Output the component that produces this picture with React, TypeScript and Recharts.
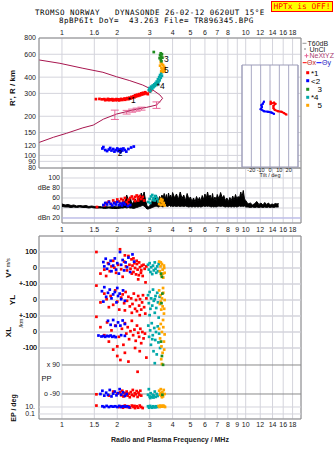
import React from "react";
import {
  ComposedChart,
  XAxis,
  YAxis,
  CartesianGrid,
  Scatter,
  Area,
  ErrorBar,
  ReferenceLine,
  ReferenceArea,
} from "recharts";

const W = 335;
const H = 451;
const SANS = "'Liberation Sans', Arial, sans-serif";
const MONO = "'DejaVu Sans Mono', 'Liberation Mono', monospace";

const RED = "#ff0000";
const BLUE = "#0000ff";
const GREEN = "#1e8c1e";
const CYAN = "#00a8a8";
const ORANGE = "#ffa500";
const PROFILE = "#a8164f";
const PINK = "#e8689a";
const GRID = "#d4d4dc";
const FRAME = "#8a8a8a";
// axes keep their labels outside the plot; a size of 0 would hide them in recharts
const THIN = 0.01;
const NBSP = "\u00a0";

// frequency axis (MHz)
const freqTicks = [1, 1.5, 2, 3, 4, 5, 6, 7, 8, 9, 10, 12, 14, 16, 18];
const topFreqLabels = ["1", "1.6", "2", "3", "4", "5", "6", "7", "8", "", "10", "12", "14", "16", "18"];
const bottomFreqLabels = ["1", "1.5", "2", "3", "4", "5", "6", "7", "8", "9", "10", "12", "14", "16", "18"];

// height panel
const heightTicks = [80, 90, 100, 120, 150, 200, 300, 400, 600, 800];
const profileCurve = [
  [0.753, 542], [0.975, 511], [1.3, 468], [1.67, 436], [1.98, 403], [2.34, 376], [2.75, 348],
  [3.12, 319], [3.41, 292], [3.53, 275], [3.41, 259], [3.27, 244], [2.88, 234], [2.43, 223],
  [1.98, 208], [1.68, 190], [1.48, 171], [1.3, 163], [1.06, 148], [0.9, 138], [0.753, 126],
];
const profileErrors = [
  [1.94, 206, 17], [2.25, 215, 7], [2.41, 221, 6], [2.55, 225, 6], [2.71, 229, 6], [3.27, 244, 14],
];
const hRed = [
  [1.53, 271], [1.6, 272], [1.65, 270], [1.7, 271], [1.72, 266], [1.75, 268], [1.78, 272], [1.8, 266],
  [1.83, 270], [1.86, 267], [1.88, 271], [1.9, 265], [1.93, 269], [1.96, 266], [1.98, 271], [2.0, 267],
  [2.03, 270], [2.05, 265], [2.08, 268], [2.1, 272], [2.13, 267], [2.16, 270], [2.19, 274], [2.21, 268],
  [2.24, 272], [2.27, 276], [2.3, 271], [2.33, 278], [2.36, 274], [2.39, 282], [2.42, 277], [2.45, 285],
  [2.48, 280], [2.5, 290], [2.53, 284], [2.56, 293], [2.6, 287], [2.63, 296], [2.66, 290], [2.7, 300],
  [2.73, 294], [2.76, 303], [2.8, 297], [2.84, 306], [2.88, 300], [2.93, 296], [3.0, 310], [3.06, 318],
];
const hBlue = [
  [1.66, 113], [1.68, 116], [1.72, 110], [1.76, 108], [1.8, 111], [1.83, 114], [1.86, 109], [1.9, 112],
  [1.93, 107], [1.96, 110], [2.0, 113], [2.02, 108], [2.05, 111], [2.08, 106], [2.1, 112], [2.13, 109],
  [2.16, 113], [2.2, 110], [2.24, 107], [2.3, 112], [2.38, 115], [2.46, 117],
];
const hGreen = [[3.16, 624], [3.4, 560], [3.42, 590], [3.45, 610], [3.47, 575], [3.5, 600], [3.45, 545], [3.52, 565], [3.48, 530]];
const hOrange = [
  [3.45, 520], [3.5, 505], [3.55, 495], [3.6, 480], [3.42, 490], [3.48, 470], [3.58, 460], [3.62, 450],
  [3.52, 455], [3.47, 445], [3.56, 440], [3.63, 468],
];
const hCyan = [
  [2.97, 318], [3.0, 330], [3.03, 312], [3.06, 338], [3.1, 325], [3.12, 345], [3.15, 335], [3.18, 352],
  [3.2, 342], [3.23, 360], [3.26, 348], [3.28, 370], [3.3, 356], [3.33, 385], [3.35, 365], [3.38, 400],
  [3.4, 378], [3.42, 415], [3.45, 395], [3.47, 430], [3.5, 410], [3.52, 440],
];
const echoLabelText = ["*1", "2", "3", "*4", "5"];
const echoLabelAt = [[2.28, 269], [2.01, 104], [3.59, 551], [3.28, 342], [3.59, 454]];

// amplitude panel (dB)
const dbTicks = [20, 40, 60, 80, 100];
const noiseFreq = [
  1.0, 1.04, 1.08, 1.12, 1.16, 1.2, 1.25, 1.3, 1.35, 1.4, 1.45, 1.5, 1.55, 1.6, 1.65, 1.7, 1.8, 1.9, 2.0,
  2.1, 2.15, 2.2, 2.25, 2.3, 2.35, 2.4, 2.45, 2.5, 2.55, 2.6, 2.65, 2.7, 2.75, 2.8, 2.85, 2.9, 2.95, 3.0,
  3.05, 3.1, 3.15, 3.2, 3.25, 3.3, 3.35, 3.4, 3.45, 3.5, 3.55, 3.6, 3.65, 3.7, 3.75, 3.8, 3.85, 3.9, 3.95,
  4.0, 4.1, 4.2, 4.3, 4.4, 4.5, 4.6, 4.7, 4.8, 4.9, 5.0, 5.1, 5.2, 5.3, 5.4, 5.5, 5.6, 5.7, 5.8, 5.9, 6.0,
  6.1, 6.2, 6.3, 6.4, 6.5, 6.6, 6.7, 6.8, 6.9, 7.0, 7.15, 7.3, 7.45, 7.6, 7.75, 7.9, 8.05, 8.2, 8.35, 8.5,
  8.65, 8.8, 8.95, 9.1, 9.25, 9.4, 9.55, 9.7, 9.85, 10.0, 10.3, 10.6, 10.9, 11.2, 11.5, 11.8, 12.1, 12.4,
  12.7, 13.0, 13.3, 13.6, 13.9, 14.2, 14.5, 14.8, 15.1,
];
const noiseLow = [
  43, 42, 42, 41, 42, 41, 42, 41, 41, 40, 41, 40, 40, 40, 40, 39, 40, 39, 39,
  40, 40, 41, 40, 41, 40, 40, 39, 40, 41, 42, 43, 44, 45, 44, 41, 38, 38, 39,
  40, 41, 42, 43, 44, 43, 42, 43, 44, 43, 42, 44, 45, 44, 43, 44, 45, 43, 44,
  43, 44, 43, 44, 43, 44, 43, 44, 43, 42, 43, 42, 43, 42, 43, 42, 43, 42, 43, 44, 43,
  44, 43, 44, 43, 42, 43, 42, 43, 42, 43, 44, 43, 44, 43, 42, 43, 42, 43, 42, 43,
  42, 43, 42, 43, 44, 43, 44, 43, 44, 42, 42, 41, 42, 41, 42, 41, 42, 41,
  42, 41, 42, 41, 42, 41, 42, 42, 42,
];
const noiseHigh = [
  48, 46, 47, 45, 46, 44, 45, 44, 45, 43, 44, 43, 42, 43, 42, 43, 42, 43, 42,
  45, 58, 50, 66, 55, 62, 48, 52, 58, 51, 64, 56, 70, 62, 72, 55, 45, 42, 44,
  48, 55, 60, 58, 66, 60, 56, 63, 58, 66, 60, 69, 58, 67, 56, 70, 60, 66, 58,
  71, 60, 68, 57, 72, 59, 66, 55, 69, 58, 62, 53, 60, 52, 63, 55, 61, 54, 65, 57, 68,
  59, 72, 60, 66, 56, 69, 54, 62, 55, 67, 58, 71, 60, 65, 55, 60, 53, 61, 55, 64,
  56, 67, 58, 63, 60, 72, 62, 75, 58, 55, 48, 50, 46, 49, 53, 47, 50, 46,
  51, 47, 50, 46, 48, 47, 49, 48, 49,
];
const dbRed = [
  [1.55, 42], [1.7, 45], [1.75, 50], [1.8, 53], [1.85, 48], [1.9, 55], [1.95, 51], [2.0, 57], [2.05, 53],
  [2.1, 58], [2.15, 55], [2.2, 60], [2.25, 52], [2.3, 56], [2.35, 60], [2.4, 63], [2.45, 58], [2.5, 62],
  [2.55, 65], [2.6, 60], [2.65, 64], [2.7, 58], [2.75, 62], [2.8, 55], [2.3, 48], [2.5, 54], [2.6, 55],
];
const dbBlue = [
  [1.68, 46], [1.72, 50], [1.76, 47], [1.8, 52], [1.84, 48], [1.88, 45], [1.92, 50], [1.96, 47], [2.0, 52],
  [2.04, 46], [2.08, 49], [2.12, 45], [2.16, 50], [2.2, 47], [2.28, 44], [2.35, 46],
];
const dbCyan = [
  [2.95, 52], [3.0, 58], [3.05, 63], [3.1, 66], [3.15, 60], [3.2, 55], [3.25, 62], [3.3, 58], [3.35, 53],
  [3.02, 50], [3.12, 56], [3.22, 64],
];
const dbOrange = [[3.38, 48], [3.42, 54], [3.46, 58], [3.5, 52], [3.54, 47], [3.58, 50], [3.62, 45], [3.45, 46], [3.52, 56]];

// tilt inset (deg)
const tiltTicks = [-20, -10, 0, 10, 20];
const tiltRed = [[0.75, 64.1], [0.75, 61.9], [4.3, 63.1], [5.8, 61.9], [3.7, 59.9], [3.7, 57.7], [5.1, 56], [8.6, 54.7], [12.3, 54.1], [15.1, 52.8], [17.6, 51.4]];
const tiltBlue = [[-6.5, 64.1], [-7.8, 61.9], [-9.2, 60.6], [-8.6, 58.7], [-10, 56.7], [-6.5, 54.7], [-2.2, 54.1], [1.5, 53.4], [4.3, 52.1]];

// lower panel axis domains (all share the same pixel band)
const V_DOMAIN = [-943.75, 200];
const YL_DOMAIN = [-743.75, 400];
const XL_DOMAIN = [-543.75, 600];
const PP_DOMAIN = [-245.2, 890.7];
const EP_DOMAIN = [-7, 252];
// row grid, stacked on the V* scale: V* 0, YL 0 (-200), XL 0 (-400)
const rowTicks = [100, 0, -100, -200, -300, -400, -500];
const rowTickLabels = ["100", "0", "+-100", "0", "+-100", "0", "-100"];
// V* value -> PP-axis value at the same height
const vToPp = (v: number) =>
  PP_DOMAIN[0] + ((v - V_DOMAIN[0]) * (PP_DOMAIN[1] - PP_DOMAIN[0])) / (V_DOMAIN[1] - V_DOMAIN[0]);

// lower panel: V*, YL, XL (m/s), PP and EP (deg)
const vRed = [
  [1.54, 100], [1.62, -35], [1.7, -10], [1.74, -50], [1.78, 30], [1.82, -20], [1.86, 10], [1.9, 45], [1.93, 2],
  [1.97, -30], [2.02, 20], [2.07, 117], [2.1, -8], [2.14, -55], [2.18, 40], [2.2, 79], [2.23, 10], [2.26, -15],
  [2.3, 75], [2.33, 20], [2.36, -5], [2.39, 54], [2.42, 15], [2.45, -25], [2.48, 30], [2.5, 0], [2.53, -40],
  [2.56, 25], [2.58, -10], [2.6, -71], [2.63, 35], [2.66, 5], [2.69, -30], [2.72, 15], [2.75, -50], [2.78, 20],
  [2.82, -5], [2.85, -90], [2.88, 10], [2.4, -35], [2.55, 45], [2.7, -15], [2.45, 60], [2.62, -45],
];
const vBlue = [
  [1.68, 37], [1.7, 10], [1.73, 58], [1.76, -5], [1.8, 25], [1.84, 45], [1.86, -20], [1.9, 15], [1.94, 60],
  [1.97, -10], [2.0, 30], [2.04, -35], [2.07, 100], [2.1, 20], [2.14, 50], [2.18, -15], [2.22, 35], [2.26, 5],
  [2.3, 65], [2.35, -25], [2.42, 85], [2.47, 40],
];
const vCyan = [
  [2.94, 20], [2.97, -10], [3.0, 30], [3.03, -25], [3.06, 5], [3.1, -38], [3.13, 15], [3.16, -15], [3.2, 35],
  [3.23, -5], [3.26, -30], [3.3, 10], [3.33, -20], [3.36, 25],
];
const vOrange = [
  [3.38, 40], [3.41, -20], [3.44, 10], [3.47, -45], [3.5, 25], [3.53, -10], [3.56, -60], [3.59, 15], [3.62, -30],
  [3.45, 35], [3.55, -35], [3.6, 0],
];
const vGreen = [[3.5, -55], [3.46, -35]];

const ylRed = [
  [1.54, 90], [1.62, -15], [1.7, 40], [1.75, 5], [1.8, -45], [1.84, 25], [1.9, -30], [1.95, 60], [2.0, -10],
  [2.05, -60], [2.1, 15], [2.14, 35], [2.18, -20], [2.22, 50], [2.26, -5], [2.3, 20], [2.34, -40], [2.38, 10],
  [2.42, -25], [2.46, 40], [2.5, -55], [2.53, 0], [2.56, -70], [2.6, 25], [2.63, -35], [2.66, 5], [2.7, -60],
  [2.73, -15], [2.76, 30], [2.8, -45], [2.84, -85], [2.88, 10], [2.4, -80], [2.65, -95], [2.2, -65],
];
const ylBlue = [
  [1.65, 55], [1.7, 80], [1.74, 20], [1.78, 45], [1.82, 65], [1.86, 10], [1.9, 35], [1.94, 50], [1.98, -15],
  [2.02, 25], [2.06, 40], [2.1, 5], [2.15, 60], [2.2, -5], [1.68, -10], [2.0, 75],
];
const ylCyan = [
  [2.94, 30], [2.97, -20], [3.0, 50], [3.03, -55], [3.06, 10], [3.1, -35], [3.13, 65], [3.16, -5], [3.2, -80],
  [3.23, 25], [3.26, -50], [3.3, 45], [3.33, -15], [3.36, -110], [3.4, 20], [3.0, -95], [3.2, 5],
];
const ylOrange = [
  [3.38, 60], [3.41, -25], [3.44, 30], [3.47, -60], [3.5, 10], [3.53, -40], [3.56, 45], [3.59, -85], [3.62, 0],
  [3.45, -10], [3.55, 75], [3.6, -55],
];
const ylGreen = [[3.48, -20], [3.52, 40]];

const xlRed = [
  [1.54, 95], [1.62, 30], [1.7, -20], [1.76, 60], [1.8, -60], [1.86, 10], [1.9, -110], [1.95, 40], [2.0, -150],
  [2.04, -30], [2.08, -175], [2.12, 20], [2.16, -80], [2.2, 55], [2.24, -10], [2.28, 30], [2.32, -45], [2.36, 5],
  [2.4, 70], [2.44, -20], [2.48, 15], [2.52, -55], [2.56, 40], [2.6, -5], [2.63, -30], [2.67, 20], [2.7, -70],
  [2.74, 0], [2.78, -40], [2.83, -10], [2.88, -160], [2.2, -130], [2.5, -100], [2.3, -185], [2.65, -120], [2.0, -90],
];
const xlBlue = [
  [1.58, -22], [1.64, -28], [1.68, -25], [1.72, -30], [1.76, -24], [1.8, -27], [1.84, -22], [1.88, -30],
  [1.92, -26], [1.96, -32], [2.1, -20], [2.2, -24], [1.78, 70], [1.84, 45], [1.9, 75], [1.96, 38], [2.02, 60],
  [2.08, 40], [2.14, 72], [2.2, 50],
];
const xlCyan = [
  [2.95, 40], [2.98, -30], [3.02, 10], [3.05, -80], [3.08, 55], [3.12, -20], [3.15, -120], [3.18, 25], [3.22, -50],
  [3.25, 0], [3.28, -140], [3.32, 35], [3.35, -65], [3.38, -10], [3.42, -100], [3.1, -45], [3.2, -195],
];
const xlOrange = [
  [3.38, 20], [3.42, -40], [3.45, 50], [3.48, -90], [3.5, 0], [3.53, -130], [3.56, 30], [3.59, -60], [3.62, -15],
  [3.47, -170], [3.55, 75], [3.6, -110], [3.5, -200],
];
const xlGreen = [[3.5, -150], [3.46, -60], [3.55, -205]];

const ppRed = [
  [1.54, -92], [2.07, -80], [2.1, -98], [2.13, -70], [2.16, -105], [2.19, -85], [2.22, -95], [2.25, -75],
  [2.28, -100], [2.31, -88], [2.34, -110], [2.37, -78], [2.4, -95], [2.43, -65], [2.46, -102], [2.49, -85],
  [2.52, -92], [2.55, -72], [2.58, -108], [2.61, -82], [2.64, -96], [2.67, -70], [2.7, -100], [2.58, 48],
  [1.8, -100], [1.9, -75], [2.0, -88],
];
const ppBlue = [
  [1.62, -90], [1.66, -70], [1.7, -100], [1.74, -82], [1.78, -95], [1.82, -65], [1.86, -105], [1.9, -88],
  [1.94, -75], [1.98, -98], [2.02, -85], [2.06, -60], [2.1, -94], [2.15, -80], [2.2, -102], [2.25, -90],
];
const ppCyan = [
  [2.94, -95], [2.97, -60], [3.0, -105], [3.04, -85], [3.08, -110], [3.12, -95], [3.16, -100], [3.2, -75],
  [3.24, -108], [3.28, -90], [3.32, -102], [3.02, -115], [3.15, -112],
];
const ppOrange = [
  [3.38, -70], [3.42, -95], [3.45, -60], [3.48, -100], [3.52, -80], [3.55, -105], [3.58, -65], [3.62, -90],
  [3.5, -110], [3.44, -85],
];
const ppGreen = [[3.52, -95]];

const epRed = [
  [1.54, 12], [2.05, 10], [2.1, 11], [2.15, 9], [2.2, 12], [2.25, 10], [2.3, 11], [2.35, 9], [2.4, 12],
  [2.45, 10], [2.5, 8.5], [2.55, 11], [2.6, 9], [2.65, 12], [2.7, 10], [2.75, 8.5], [2.3, 10.5], [2.48, 11.5],
];
const epBlue = [
  [1.66, 11], [1.7, 10], [1.75, 11.5], [1.8, 10], [1.85, 11], [1.9, 10.5], [1.95, 11], [2.0, 10], [2.05, 11.5],
  [2.1, 10], [2.15, 11], [2.2, 10.5], [2.26, 11], [2.32, 9.5],
];
const epCyan = [[2.94, 11], [2.98, 9], [3.02, 11.5], [3.06, 10], [3.1, 9], [3.14, 11], [3.18, 10], [3.22, 9.5], [3.26, 11], [3.3, 10]];
const epOrange = [[3.36, 11.5], [3.4, 10], [3.44, 12], [3.48, 11], [3.52, 10.5], [3.56, 12], [3.6, 11], [3.64, 10]];

const pts = (a: number[][]) => a.map(([f, y]) => ({ f, y }));
const tick = { fontSize: 7, fill: "#1a1a1a", fontFamily: SANS };
const layer: React.CSSProperties = { position: "absolute", left: 0, top: 0 };
const lowerMargin = { top: 236, right: 34, bottom: H - 419, left: 39 };

const sq = (color: string, s = 2.7) => (p: any) =>
  p.cx == null ? <g /> : <rect x={p.cx - s / 2} y={p.cy - s / 2} width={s} height={s} fill={color} />;
const none = () => <g />;
const labelShape = (p: any) => (
  <text x={p.cx} y={p.cy + 3} fontSize={8.5} fontFamily={SANS} fill="#000">
    {p.payload.t}
  </text>
);

function TopPanel() {
  const errData = profileErrors.map(([f, y, e]) => ({ f, y, e }));
  const labels = echoLabelAt.map(([f, y], i) => ({ f, y, t: echoLabelText[i] }));
  return (
    <ComposedChart width={W} height={H} margin={{ top: 38, right: 34, bottom: H - 168, left: 39 }}>
      <CartesianGrid stroke={GRID} />
      <XAxis dataKey="f" type="number" scale="log" domain={[0.75, 20]} allowDataOverflow orientation="top"
        ticks={freqTicks} interval={0} tickFormatter={(_v: number, i: number) => topFreqLabels[i]}
        axisLine={false} tickLine={false} tickSize={2} tickMargin={1} height={THIN} tick={tick} />
      <YAxis dataKey="y" type="number" scale="log" domain={[80, 800]} allowDataOverflow ticks={heightTicks}
        interval={0} axisLine={false} tickLine={false} tickSize={2} tickMargin={1} width={THIN} tick={tick} />
      <ReferenceArea x1={0.75} x2={20} y1={80} y2={800} fill="none" stroke={FRAME} />
      <Scatter data={pts(profileCurve)} line={{ stroke: PROFILE, strokeWidth: 1 }} lineType="joint"
        shape={none} isAnimationActive={false} />
      <Scatter data={errData} shape={sq(PINK, 1.5)} isAnimationActive={false}>
        <ErrorBar dataKey="e" direction="y" width={4} stroke={PINK} strokeWidth={1} />
      </Scatter>
      <Scatter data={pts(hBlue)} shape={sq(BLUE)} isAnimationActive={false} />
      <Scatter data={pts(hRed)} shape={sq(RED)} isAnimationActive={false} />
      <Scatter data={pts(hCyan)} shape={sq(CYAN)} isAnimationActive={false} />
      <Scatter data={pts(hOrange)} shape={sq(ORANGE)} isAnimationActive={false} />
      <Scatter data={pts(hGreen)} shape={sq(GREEN)} isAnimationActive={false} />
      <Scatter data={labels} shape={labelShape} isAnimationActive={false} />
    </ComposedChart>
  );
}

function DbPanel() {
  const noise = noiseFreq.map((f, i) => ({ f, band: [noiseLow[i], noiseHigh[i]] }));
  return (
    <ComposedChart width={W} height={H} data={noise} margin={{ top: 168, right: 34, bottom: H - 223, left: 62 }}>
      <CartesianGrid stroke={GRID} />
      <XAxis dataKey="f" type="number" scale="log" domain={[1, 20]} allowDataOverflow ticks={freqTicks}
        interval={0} tickFormatter={(_v: number, i: number) => bottomFreqLabels[i]} axisLine={false}
        tickLine={false} tickSize={2} tickMargin={2.5} height={THIN} tick={tick} />
      <YAxis dataKey="y" type="number" domain={[10, 120]} allowDataOverflow ticks={dbTicks} interval={0}
        tickFormatter={(v: number) => (v === 20 ? "dBn" + NBSP + "20" : v === 80 ? "dBe" + NBSP + "80" : String(v))}
        axisLine={false} tickLine={false} tickSize={1} tickMargin={1} width={THIN} tick={tick} />
      <ReferenceLine y={20} stroke="#b4b4ee" />
      <ReferenceArea x1={1} x2={20} y1={10} y2={120} fill="none" stroke={FRAME} />
      <Area dataKey="band" type="linear" stroke="#000" strokeWidth={1} fill="#000" fillOpacity={1}
        dot={false} activeDot={false} isAnimationActive={false} />
      <Scatter data={pts(dbRed)} shape={sq(RED)} isAnimationActive={false} />
      <Scatter data={pts(dbBlue)} shape={sq(BLUE)} isAnimationActive={false} />
      <Scatter data={pts(dbCyan)} shape={sq(CYAN)} isAnimationActive={false} />
      <Scatter data={pts(dbOrange)} shape={sq(ORANGE)} isAnimationActive={false} />
    </ComposedChart>
  );
}

function TiltInset() {
  const toXY = (a: number[][]) => a.map(([x, y]) => ({ x, y }));
  return (
    <ComposedChart width={W} height={H} margin={{ top: 65, right: W - 298, bottom: H - 167, left: 242 }}>
      <CartesianGrid fill="#fff" stroke="#a9a9c4" horizontal={false} />
      <XAxis dataKey="x" type="number" domain={[-30, 30]} allowDataOverflow ticks={tiltTicks} interval={0}
        axisLine={false} tickLine={false} tickSize={0.5} tickMargin={0.5} height={THIN}
        tick={{ fontSize: 5.5, fill: "#1a1a1a", fontFamily: SANS }} />
      <YAxis dataKey="y" type="number" domain={[0, 100]} hide width={THIN} />
      <ReferenceArea x1={-30} x2={30} y1={0} y2={100} fill="none" stroke="#9c9cb8" />
      <Scatter data={toXY(tiltBlue)} line={{ stroke: BLUE, strokeWidth: 2 }} lineType="joint"
        shape={sq(BLUE, 2)} isAnimationActive={false} />
      <Scatter data={toXY(tiltRed)} line={{ stroke: RED, strokeWidth: 2 }} lineType="joint"
        shape={sq(RED, 2)} isAnimationActive={false} />
    </ComposedChart>
  );
}

// grid, frame and row labels of the lower panel
function LowerGrid() {
  return (
    <ComposedChart width={W} height={H} margin={lowerMargin}>
      <CartesianGrid stroke={GRID} />
      <XAxis dataKey="f" type="number" scale="log" domain={[0.75, 20]} allowDataOverflow ticks={freqTicks}
        interval={0} tickFormatter={(_v: number, i: number) => bottomFreqLabels[i]} axisLine={false}
        tickLine={false} tickSize={2} tickMargin={1} height={THIN} tick={tick} />
      <YAxis dataKey="y" type="number" domain={PP_DOMAIN} allowDataOverflow ticks={rowTicks.map(vToPp)} interval={0}
        tickFormatter={(_v: number, i: number) => rowTickLabels[i]} axisLine={false} tickLine={false}
        tickSize={1} tickMargin={1} width={THIN} tick={tick} />
      <ReferenceArea x1={0.75} x2={20} y1={PP_DOMAIN[0]} y2={PP_DOMAIN[1]} fill="none" stroke={FRAME} />
    </ComposedChart>
  );
}

function LowerPanel() {
  const rows: [string, number[][], string][] = [
    ["v", vRed, RED], ["v", vBlue, BLUE], ["v", vCyan, CYAN], ["v", vOrange, ORANGE], ["v", vGreen, GREEN],
    ["yl", ylRed, RED], ["yl", ylBlue, BLUE], ["yl", ylCyan, CYAN], ["yl", ylOrange, ORANGE], ["yl", ylGreen, GREEN],
    ["xl", xlRed, RED], ["xl", xlBlue, BLUE], ["xl", xlCyan, CYAN], ["xl", xlOrange, ORANGE], ["xl", xlGreen, GREEN],
    ["pp", ppRed, RED], ["pp", ppBlue, BLUE], ["pp", ppCyan, CYAN], ["pp", ppOrange, ORANGE], ["pp", ppGreen, GREEN],
    ["ep", epRed, RED], ["ep", epBlue, BLUE], ["ep", epCyan, CYAN], ["ep", epOrange, ORANGE],
  ];
  const lbl = (value: string) => ({ value, position: "left" as const, offset: 2, fontSize: 7, fill: "#1a1a1a", fontFamily: SANS });
  return (
    <ComposedChart width={W} height={H} margin={lowerMargin}>
      <XAxis dataKey="f" type="number" scale="log" domain={[0.75, 20]} allowDataOverflow hide height={THIN} />
      <YAxis yAxisId="v" dataKey="y" type="number" domain={V_DOMAIN} allowDataOverflow hide width={THIN} />
      <YAxis yAxisId="yl" dataKey="y" type="number" domain={YL_DOMAIN} allowDataOverflow hide width={THIN} />
      <YAxis yAxisId="xl" dataKey="y" type="number" domain={XL_DOMAIN} allowDataOverflow hide width={THIN} />
      <YAxis yAxisId="pp" dataKey="y" type="number" domain={PP_DOMAIN} allowDataOverflow hide width={THIN} />
      <YAxis yAxisId="ep" dataKey="y" type="number" domain={EP_DOMAIN} allowDataOverflow ticks={[10, 0.1]}
        interval={0} tickFormatter={(v: number) => (v === 10 ? "10." : "0.1")} axisLine={false}
        tickLine={false} tickSize={1} tickMargin={3} width={THIN} tick={tick} />
      {rowTicks.map((v, i) => (
        <ReferenceLine key={"row" + i} yAxisId="pp" segment={[{ x: 0.75, y: vToPp(v) }, { x: 20, y: vToPp(v) }]}
          stroke={GRID} ifOverflow="visible" label={lbl(rowTickLabels[i])} />
      ))}
      {[10, 0.1].map((y) => (
        <ReferenceLine key={"ep" + y} yAxisId="ep" segment={[{ x: 0.75, y }, { x: 20, y }]} stroke={GRID} ifOverflow="visible" />
      ))}
      <ReferenceLine yAxisId="pp" segment={[{ x: 1, y: 90 }, { x: 20, y: 90 }]} stroke={FRAME} ifOverflow="visible" label={lbl("x 90")} />
      <ReferenceLine yAxisId="pp" segment={[{ x: 1, y: -90 }, { x: 20, y: -90 }]} stroke={FRAME} ifOverflow="visible" label={lbl("o -90")} />
      {rows.map(([axis, data, color], i) => (
        <Scatter key={i} yAxisId={axis} data={pts(data)} shape={sq(color)} isAnimationActive={false} />
      ))}
    </ComposedChart>
  );
}

function Overlay() {
  const rot = (x: number, y: number) => `rotate(-90 ${x} ${y})`;
  const titleStyle = { whiteSpace: "pre" as const, letterSpacing: "0.48px" };
  return (
    <svg width={W} height={H} style={{ ...layer, pointerEvents: "none" }} fontFamily={SANS}>
      <text x={35} y={14.6} fontFamily={MONO} fontSize={7.5} fill="#000" style={titleStyle}>
        {"TROMSO NORWAY   DYNASONDE 26-02-12 0620UT 15°E"}
      </text>
      <text x={59} y={22.9} fontFamily={MONO} fontSize={7.5} fill="#000" style={titleStyle}>
        {"8pBP6It DoY=  43.263 File= TR896345.BPG"}
      </text>

      <text x={12} y={88} transform={rot(12, 88)} textAnchor="middle" dominantBaseline="central"
        fontSize={8} fontWeight="bold" fill="#111">R', R / km</text>
      <text x={8} y={268} transform={rot(8, 268)} textAnchor="middle" dominantBaseline="central" fill="#111">
        <tspan fontSize={8} fontWeight="bold">V*</tspan>
        <tspan fontSize={5.5} dx={2}>m/s</tspan>
      </text>
      <text x={12} y={300} transform={rot(12, 300)} textAnchor="middle" dominantBaseline="central"
        fontSize={8} fontWeight="bold" fill="#111">YL</text>
      <text x={21} y={323} transform={rot(21, 323)} textAnchor="middle" dominantBaseline="central"
        fontSize={5.5} fill="#111">/km</text>
      <text x={8} y={332} transform={rot(8, 332)} textAnchor="middle" dominantBaseline="central"
        fontSize={8} fontWeight="bold" fill="#111">XL</text>
      <text x={13} y={408} transform={rot(13, 408)} textAnchor="middle" dominantBaseline="central"
        fontSize={7} fontWeight="bold" fill="#111">EP / deg</text>
      <text x={41.5} y={381} fontSize={7.5} fill="#111">PP</text>
      <text x={170} y={442} textAnchor="middle" fontSize={7} fontWeight="bold" fill="#222">
        Radio and Plasma Frequency / MHz
      </text>
      <text x={270} y={177} textAnchor="middle" fontSize={5.5} fill="#1a1a1a">Tilt / deg</text>

      <line x1={302.5} x2={306.5} y1={43.3} y2={43.3} stroke="#999" />
      <text x={307.5} y={45.8} fontSize={7} fill="#222">T60dB</text>
      <rect x={304.5} y={48.5} width={1} height={1} fill="#000" />
      <text x={309.5} y={51.5} fontSize={7} fill="#222">UnCl</text>
      <line x1={304.5} x2={308.5} y1={55.7} y2={55.7} stroke={PINK} />
      <line x1={306.5} x2={306.5} y1={53.7} y2={57.7} stroke={PINK} />
      <text x={309.5} y={58.2} fontSize={7} fill="#a84070">NeXtYZ</text>
      <line x1={302.7} x2={306.7} y1={62.7} y2={62.7} stroke={RED} />
      <text x={307} y={65.2} fontSize={7} fill="#c02020">Θx</text>
      <line x1={316.5} x2={321.5} y1={62.7} y2={62.7} stroke={BLUE} />
      <text x={322} y={65.2} fontSize={7} fill="#2020c0">Θy</text>
      {[
        [RED, "*1", 72.7, 311],
        [BLUE, "<2", 80.7, 311],
        [GREEN, "3", 89.3, 317.5],
        [CYAN, "*4", 97.3, 311],
        [ORANGE, "5", 105.3, 317.5],
      ].map(([c, t, y, x]) => (
        <g key={t as string}>
          <rect x={306.2} y={(y as number) - 1.5} width={3} height={3} fill={c as string} />
          <text x={x as number} y={(y as number) + 3} fontSize={8} fill="#000">{t as string}</text>
        </g>
      ))}
    </svg>
  );
}

export default function App() {
  return (
    <div style={{ position: "absolute", left: 0, top: 0, width: W, height: H, background: "#fff", overflow: "hidden" }}>
      <div style={layer}><TopPanel /></div>
      <div style={layer}><DbPanel /></div>
      <div style={layer}><LowerGrid /></div>
      <div style={layer}><LowerPanel /></div>
      <div style={layer}><TiltInset /></div>
      <Overlay />
      <div
        style={{
          position: "absolute", left: 271, top: 1, width: 60, height: 9, lineHeight: "9px",
          background: "#ffff00", border: "1px solid #ff0000", color: "#ff0000", fontFamily: MONO,
          fontSize: 7.9, textAlign: "center", whiteSpace: "pre",
        }}
      >
        HPTx is OFF!
      </div>
    </div>
  );
}
